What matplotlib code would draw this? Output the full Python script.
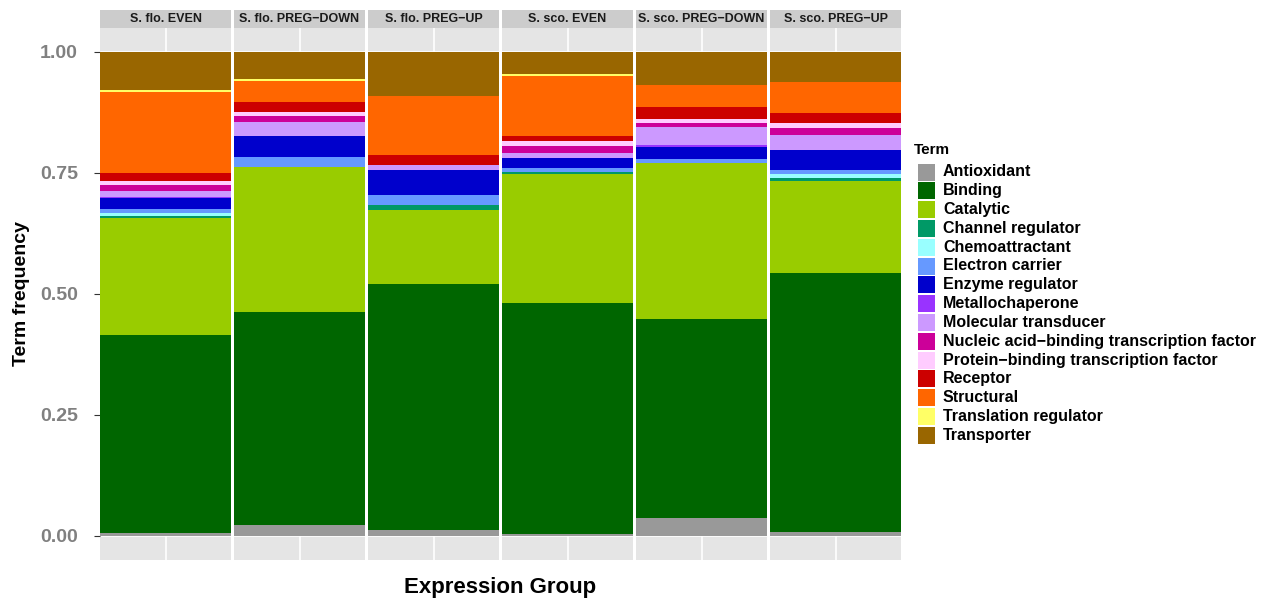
import numpy as np
import matplotlib.pyplot as plt
from matplotlib.patches import Rectangle

plt.rcParams['font.family'] = ['Liberation Sans', 'DejaVu Sans']

groups = ["S. flo. EVEN", "S. flo. PREG−DOWN", "S. flo. PREG−UP",
          "S. sco. EVEN", "S. sco. PREG−DOWN", "S. sco. PREG−UP"]

terms = ["Antioxidant", "Binding", "Catalytic", "Channel regulator",
         "Chemoattractant", "Electron carrier", "Enzyme regulator",
         "Metallochaperone", "Molecular transducer",
         "Nucleic acid−binding transcription factor",
         "Protein−binding transcription factor", "Receptor", "Structural",
         "Translation regulator", "Transporter"]

term_colors = ["#999999", "#006600", "#99CC00", "#009966", "#99FFFF",
               "#6699FF", "#0000CC", "#9933FF", "#CC99FF", "#CC0099",
               "#FFCCFF", "#CC0000", "#FF6600", "#FFFF66", "#996600"]

# term frequencies per group, same order as terms (stacked bottom -> top)
s_flo_even = [0.006, 0.408, 0.242, 0.005, 0.006, 0.008, 0.023, 0.002,
              0.012, 0.012, 0.008, 0.018, 0.166, 0.004, 0.080]
s_flo_down = [0.022, 0.440, 0.300, 0.000, 0.000, 0.021, 0.042, 0.001,
              0.028, 0.014, 0.008, 0.020, 0.044, 0.004, 0.056]
s_flo_up = [0.011, 0.509, 0.154, 0.009, 0.000, 0.022, 0.050, 0.000,
            0.010, 0.000, 0.000, 0.021, 0.123, 0.000, 0.091]
s_sco_even = [0.004, 0.477, 0.267, 0.003, 0.000, 0.009, 0.021, 0.000,
              0.009, 0.016, 0.010, 0.009, 0.124, 0.004, 0.047]
s_sco_down = [0.036, 0.412, 0.322, 0.000, 0.000, 0.009, 0.024, 0.005,
              0.036, 0.008, 0.009, 0.025, 0.045, 0.000, 0.069]
s_sco_up = [0.008, 0.535, 0.190, 0.006, 0.009, 0.008, 0.040, 0.000,
            0.031, 0.016, 0.009, 0.022, 0.063, 0.000, 0.063]

freqs = np.array([s_flo_even, s_flo_down, s_flo_up,
                  s_sco_even, s_sco_down, s_sco_up])

W, H = 1272, 600


def box(x0, y0, x1, y1):
    # pixel box (top-left origin) -> figure fraction rect
    return [x0 / W, 1 - y1 / H, (x1 - x0) / W, (y1 - y0) / H]


fig = plt.figure(figsize=(W / 100, H / 100), dpi=100)

for i, g in enumerate(groups):
    x0 = 100 + i * 134
    ax = fig.add_axes(box(x0, 27.5, x0 + 131, 560))
    ax.set_facecolor('#E5E5E5')
    bottom = 0.0
    for j, v in enumerate(freqs[i]):
        ax.bar(0, v, width=1, bottom=bottom, color=term_colors[j], linewidth=0)
        bottom += v
    ax.set_xlim(-0.5, 0.5)
    ax.set_ylim(-0.05, 1.05)
    ax.set_xticks([0])
    ax.set_yticks([0, 0.25, 0.5, 0.75, 1.0])
    ax.set_yticks([0.125, 0.375, 0.625, 0.875], minor=True)
    ax.grid(which='major', color='white', lw=1.2)
    ax.grid(which='minor', axis='y', color='#F2F2F2', lw=0.6)
    ax.set_axisbelow(True)
    for s in ax.spines.values():
        s.set_visible(False)
    ax.tick_params(axis='x', length=0, labelbottom=False)
    ax.tick_params(axis='y', which='minor', length=0)
    if i == 0:
        ax.set_yticklabels(['0.00', '0.25', '0.50', '0.75', '1.00'])
        ax.tick_params(axis='y', length=4, color='#333333', pad=12,
                       labelsize=14, labelcolor='#808080')
        for lab in ax.get_yticklabels():
            lab.set_fontweight('bold')
    else:
        ax.tick_params(axis='y', length=0, labelleft=False)

    # facet strip
    st = fig.add_axes(box(x0, 9.5, x0 + 131, 27.5))
    st.set_facecolor('#CCCCCC')
    st.set_xticks([])
    st.set_yticks([])
    for s in st.spines.values():
        s.set_visible(False)
    st.text(0.5, 0.5, g, ha='center', va='center', fontsize=9,
            fontweight='bold', color='#1A1A1A', transform=st.transAxes)

fig.text(22 / W, 1 - 294 / H, 'Term frequency', rotation=90, ha='center',
         va='center', fontsize=14, fontweight='bold')
fig.text(500 / W, 1 - 587 / H, 'Expression Group', ha='center', va='center',
         fontsize=16, fontweight='bold')

# legend
fig.text(914 / W, 1 - 150 / H, 'Term', ha='left', va='center',
         fontsize=11, fontweight='bold')
for j, t in enumerate(terms):
    yc = 172 + j * 18.8
    fig.add_artist(Rectangle((918 / W, 1 - (yc + 8.5) / H), 17 / W, 17 / H,
                             transform=fig.transFigure,
                             facecolor=term_colors[j], edgecolor='none'))
    fig.text(943 / W, 1 - yc / H, t, ha='left', va='center',
             fontsize=11.5, fontweight='bold')

plt.savefig('out.png', dpi=100)
